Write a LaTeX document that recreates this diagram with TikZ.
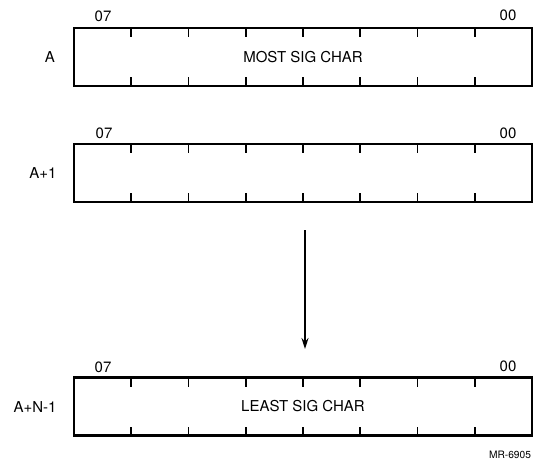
\documentclass[tikz,border=0pt]{standalone}
\usepackage{fontspec}
\setmainfont{TeX Gyre Heros}
\usetikzlibrary{arrows.meta,calc}
\tikzset{
  reg/.style={draw, line width=2.5pt, minimum width=458pt, minimum height=58pt, inner sep=0pt, outer sep=0pt},
  tick/.style={line width=1.6pt},
  txt/.style={font=\fontsize{15}{17}\selectfont, inner sep=0pt},
  small/.style={font=\fontsize{10.2}{12}\selectfont, inner sep=0pt},
}
\begin{document}
\begin{tikzpicture}[x=1pt,y=-1pt]
\useasboundingbox (0,0) rectangle (537,466);

\node[reg] (b1) at (303,57) {};
\node[reg] (b2) at (303,173) {};
\node[reg] (b3) at (303,406.5) {};

\foreach \b in {b1,b2,b3}{
  \foreach \i in {1,...,7}{
    \draw[tick] ($(\b.north west)!\i/8!(\b.north east)$) -- ++(0,9);
    \draw[tick] ($(\b.south west)!\i/8!(\b.south east)$) -- ++(0,-9);
  }
}

\node[txt] (t1) at (b1.center) {MOST SIG CHAR};
\node[txt] (t3) at (b3.center) {LEAST SIG CHAR};

\node[txt] (l1) at (50,57) {A};
\node[txt] (l2) at (43,173) {A+1};
\node[txt] (l3) at (35,407) {A+N-1};

\node[txt] (h1a) at (103,16) {07};
\node[txt] (h1b) at (508,15) {00};
\node[txt] (h2a) at (104,133) {07};
\node[txt] (h2b) at (508,133) {00};
\node[txt] (h3a) at (103,367) {07};
\node[txt] (h3b) at (508,366) {00};

\coordinate (as) at (305,230);
\coordinate (ae) at (305,349);
\draw[line width=1.6pt, -{Stealth[length=11pt,width=7pt]}] (as) -- (ae);

\node[small] (mr) at (510,455) {MR-6905};
\end{tikzpicture}
\end{document}
